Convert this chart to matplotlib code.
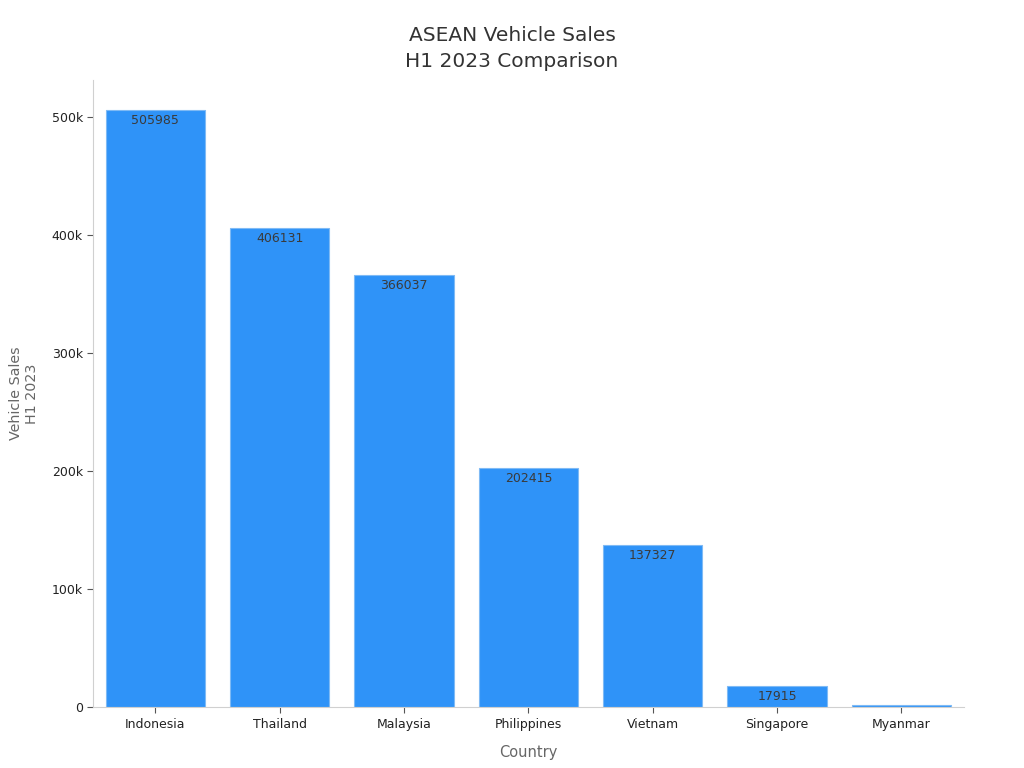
import numpy as np
import matplotlib.pyplot as plt
from matplotlib.ticker import FuncFormatter

countries = ["Indonesia", "Thailand", "Malaysia", "Philippines", "Vietnam", "Singapore", "Myanmar"]
sales = [505985, 406131, 366037, 202415, 137327, 17915, 1800]

fig = plt.figure(figsize=(10.24, 7.68), dpi=100)
ax = fig.add_axes([0.091, 0.079, 0.85, 0.817])

x = np.arange(len(countries))
bars = ax.bar(x, sales, width=0.8, color="#2f93f8", edgecolor="#7fbaf5", linewidth=0.8)

for xi, v in zip(x, sales):
    if v > 10000:
        ax.text(xi, v - 3500, str(v), ha="center", va="top", fontsize=9, color="#3a3a3a")

ax.set_xlim(-0.5, 6.5)
ax.set_ylim(0, max(sales) * 1.05)
ax.set_xticks(x)
ax.set_xticklabels(countries)
ax.yaxis.set_major_formatter(FuncFormatter(lambda v, p: "0" if v == 0 else f"{int(v/1000)}k"))

for s in ["top", "right"]:
    ax.spines[s].set_visible(False)
for s in ["left", "bottom"]:
    ax.spines[s].set_color("#d0d0d0")
ax.tick_params(axis="both", labelsize=9, colors="#222222", length=4)
ax.tick_params(axis="both", color="#555555")

fig.suptitle("ASEAN Vehicle Sales\nH1 2023 Comparison", x=0.5, y=0.966, fontsize=14.5,
             color="#333333", linespacing=1.45)
ax.set_xlabel("Country", fontsize=10.5, color="#666666", labelpad=10)
ax.set_ylabel("Vehicle Sales\nH1 2023", fontsize=10.3, color="#666666", labelpad=9)

fig.savefig("out.png", dpi=100)
